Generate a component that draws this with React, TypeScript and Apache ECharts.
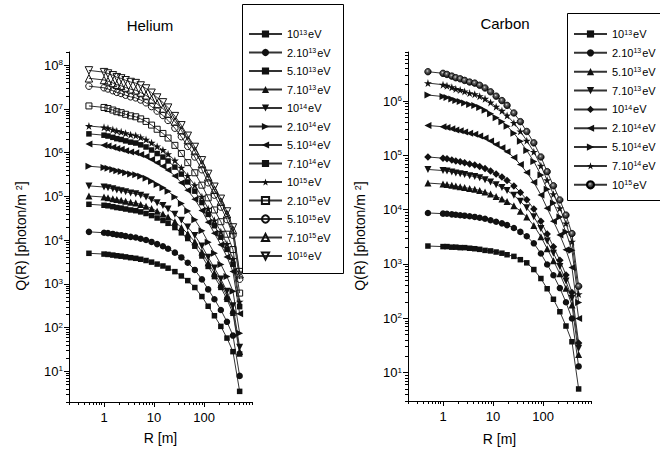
import React, { useEffect, useRef } from "react";
import * as echarts from "echarts";

// ---------- data ----------
const R = [0.5, 1, 1.2, 1.5, 1.8, 2.2, 2.7, 3.4, 4.3, 5.4, 6.9, 8.9, 11.5, 15, 19, 26, 35, 47, 65, 90, 120, 160, 215, 285, 375, 510];

// Helium
const he_1e13 = [5010, 4810, 4720, 4560, 4410, 4300, 4150, 3980, 3850, 3660, 3430, 3150, 2840, 2570, 2290, 1910, 1520, 1190, 828, 515, 309, 187, 107, 57.8, 28.3, 3.5];
const he_2e13 = [15500, 14800, 14500, 13900, 13300, 13000, 12400, 11900, 11500, 10800, 10100, 9120, 8130, 7240, 6350, 5190, 4030, 3050, 2090, 1270, 750, 447, 254, 136, 66, 7.9];
const he_5e13 = [66100, 62800, 61100, 58300, 55700, 54000, 51500, 49000, 47200, 44300, 40700, 36500, 32100, 28200, 24300, 19400, 14700, 10900, 7280, 4350, 2510, 1470, 832, 445, 213, 25];
const he_7e13 = [102000, 96800, 93800, 89000, 84500, 81600, 77400, 73300, 70500, 65600, 59900, 53000, 45900, 39800, 33800, 26400, 19500, 14000, 9200, 5380, 3050, 1760, 989, 526, 249, 28.6];
const he_1e14 = [174000, 164000, 158000, 149000, 141000, 135000, 128000, 120000, 115000, 107000, 96600, 84300, 72100, 61700, 51600, 39300, 28400, 19900, 12800, 7310, 4070, 2310, 1290, 682, 319, 35.8];
const he_2e14 = [490000, 459000, 441000, 414000, 388000, 372000, 349000, 327000, 313000, 288000, 259000, 223000, 188000, 158000, 131000, 97000, 68700, 46700, 29400, 16500, 9020, 5040, 2790, 1470, 679, 74.5];
const he_5e14 = [1.58e6, 1.48e6, 1.42e6, 1.33e6, 1.24e6, 1.19e6, 1.11e6, 1.04e6, 995000, 910000, 815000, 698000, 585000, 490000, 401000, 294000, 206000, 138000, 85900, 47600, 25800, 14300, 7890, 4150, 1910, 207];
const he_7e14 = [2.69e6, 2.51e6, 2.4e6, 2.24e6, 2.09e6, 2.0e6, 1.86e6, 1.74e6, 1.66e6, 1.51e6, 1.35e6, 1.15e6, 955000, 794000, 646000, 468000, 324000, 214000, 132000, 72400, 38900, 21400, 11700, 6170, 2820, 302];
const he_1e15 = [4.07e6, 3.79e6, 3.61e6, 3.37e6, 3.13e6, 2.99e6, 2.77e6, 2.58e6, 2.47e6, 2.24e6, 1.99e6, 1.68e6, 1.39e6, 1.15e6, 927000, 662000, 453000, 295000, 180000, 97900, 52100, 28400, 15600, 8150, 3710, 393];
const he_2e15 = [1.17e7, 1.08e7, 1.02e7, 9.42e6, 8.65e6, 8.2e6, 7.53e6, 6.95e6, 6.61e6, 5.92e6, 5.18e6, 4.27e6, 3.43e6, 2.75e6, 2.16e6, 1.47e6, 959000, 592000, 347000, 181000, 92700, 49000, 26400, 13700, 6100, 617];
const he_5e15 = [3.31e7, 3.04e7, 2.86e7, 2.61e7, 2.39e7, 2.25e7, 2.06e7, 1.89e7, 1.79e7, 1.6e7, 1.38e7, 1.13e7, 8.93e6, 7.08e6, 5.46e6, 3.63e6, 2.32e6, 1.39e6, 798000, 407000, 205000, 107000, 57100, 29500, 13000, 1280];
const he_7e15 = [5.01e7, 4.59e7, 4.31e7, 3.93e7, 3.58e7, 3.37e7, 3.08e7, 2.82e7, 2.67e7, 2.37e7, 2.04e7, 1.65e7, 1.3e7, 1.02e7, 7.83e6, 5.15e6, 3.25e6, 1.92e6, 1.09e6, 552000, 275000, 142000, 75900, 39100, 17100, 1670];
const he_1e16 = [7.59e7, 6.92e7, 6.46e7, 5.86e7, 5.31e7, 4.98e7, 4.52e7, 4.12e7, 3.89e7, 3.43e7, 2.93e7, 2.34e7, 1.82e7, 1.41e7, 1.07e7, 6.84e6, 4.22e6, 2.43e6, 1.35e6, 668000, 327000, 166000, 88100, 45200, 19500, 1860];

// Carbon
const c_1e13 = [2140, 2090, 2090, 2040, 2040, 2000, 2000, 1950, 1910, 1860, 1780, 1740, 1660, 1580, 1480, 1380, 1200, 1050, 790, 540, 350, 224, 132, 72, 37, 5];
const c_2e13 = [8700, 8450, 8400, 8200, 8050, 7900, 7750, 7550, 7350, 7100, 6800, 6400, 6000, 5600, 5200, 4600, 3900, 3240, 2400, 1560, 980, 620, 360, 197, 99, 13];
const c_5e13 = [30900, 29600, 29100, 28100, 27200, 26500, 25600, 24500, 23800, 22600, 21100, 19400, 17500, 15800, 14100, 11800, 9400, 7300, 5100, 3180, 1910, 1150, 660, 356, 175, 21.5];
const c_7e13 = [55000, 52500, 51300, 49300, 47300, 46000, 44200, 42200, 40700, 38500, 35700, 32400, 28800, 25700, 22500, 18400, 14300, 10800, 7400, 4500, 2660, 1580, 900, 484, 234, 28];
const c_1e14 = [93300, 88700, 86300, 82400, 78700, 76200, 72800, 69200, 66700, 62500, 57500, 51500, 45300, 39800, 34400, 27400, 20800, 15300, 10300, 6100, 3550, 2080, 1170, 630, 300, 35];
const c_2e14 = [355000, 336000, 325000, 309000, 293000, 283000, 269000, 254000, 244000, 228000, 208000, 184000, 159000, 138000, 117000, 91400, 67800, 48600, 31900, 18700, 10600, 6100, 3430, 1820, 860, 99];
const c_5e14 = [1.29e6, 1.21e6, 1.16e6, 1.09e6, 1.02e6, 978000, 918000, 861000, 824000, 757000, 680000, 586000, 494000, 417000, 344000, 255000, 181000, 123000, 77300, 43400, 23700, 13200, 7330, 3860, 1790, 196];
const c_7e14 = [2.14e6, 2.0e6, 1.91e6, 1.79e6, 1.67e6, 1.6e6, 1.5e6, 1.4e6, 1.34e6, 1.23e6, 1.1e6, 942000, 789000, 661000, 541000, 396000, 277000, 186000, 116000, 64300, 34800, 19300, 10600, 5600, 2580, 279];
const c_1e15 = [3.47e6, 3.24e6, 3.09e6, 2.88e6, 2.69e6, 2.57e6, 2.4e6, 2.24e6, 2.14e6, 1.95e6, 1.74e6, 1.48e6, 1.23e6, 1.02e6, 832000, 603000, 417000, 275000, 170000, 93300, 50100, 27500, 15100, 7940, 3630, 389];

const heLabels = ["10^13eV", "2.10^13eV", "5.10^13eV", "7.10^13eV", "10^14eV", "2.10^14eV", "5.10^14eV", "7.10^14eV", "10^15eV", "2.10^15eV", "5.10^15eV", "7.10^15eV", "10^16eV"];
const cLabels = ["10^13eV", "2.10^13eV", "5.10^13eV", "7.10^13eV", "10^14eV", "2.10^14eV", "5.10^14eV", "7.10^14eV", "10^15eV"];

// axis ticks
const xMajor = [1, 10, 100];
const xMinor = [0.2, 0.3, 0.4, 0.5, 0.6, 0.7, 0.8, 0.9, 2, 3, 4, 5, 6, 7, 8, 9, 20, 30, 40, 50, 60, 70, 80, 90, 200, 300, 400, 500, 600, 700, 800, 900];
const heYMajor = [10, 100, 1e3, 1e4, 1e5, 1e6, 1e7, 1e8];
const cYMajor = [10, 100, 1e3, 1e4, 1e5, 1e6];

// ---------- styling ----------
const FONT = '"Liberation Sans", Arial, Helvetica, sans-serif';
const SQ = "rect";
const CIR = "circle";
const TUP = "path://M5,0 L10,9 L0,9 Z";
const TDN = "path://M0,0 L10,0 L5,9 Z";
const TLF = "path://M9,0 L9,10 L0,5 Z";
const TRT = "path://M0,0 L0,10 L9,5 Z";
const DIA = "diamond";
const STAR = "path://M50,0 L61.2,34.5 L97.6,34.5 L68.2,55.9 L79.4,90.5 L50,69.1 L20.6,90.5 L31.8,55.9 L2.4,34.5 L38.8,34.5 Z";

function minorTicks(lo: number, hi: number) {
  const out: number[] = [];
  for (let e = -1; e <= 9; e++) {
    for (let m = 2; m <= 9; m++) {
      const v = m * Math.pow(10, e);
      if (v >= lo * 0.999 && v <= hi * 1.001) out.push(v);
    }
  }
  return out;
}

type Def = { values: number[]; symbol: string; size: number; open?: boolean; shaded?: boolean };

const heDefs: Def[] = [
  { values: he_1e13, symbol: SQ, size: 5.5 },
  { values: he_2e13, symbol: CIR, size: 6.5 },
  { values: he_5e13, symbol: SQ, size: 5.5 },
  { values: he_7e13, symbol: TUP, size: 7 },
  { values: he_1e14, symbol: TDN, size: 7 },
  { values: he_2e14, symbol: TRT, size: 7 },
  { values: he_5e14, symbol: TLF, size: 7 },
  { values: he_7e14, symbol: SQ, size: 5.5 },
  { values: he_1e15, symbol: STAR, size: 8 },
  { values: he_2e15, symbol: SQ, size: 6, open: true },
  { values: he_5e15, symbol: CIR, size: 6.5, open: true },
  { values: he_7e15, symbol: TUP, size: 7.5, open: true },
  { values: he_1e16, symbol: TDN, size: 7.5, open: true },
];

const cDefs: Def[] = [
  { values: c_1e13, symbol: SQ, size: 5.5 },
  { values: c_2e13, symbol: CIR, size: 6.5 },
  { values: c_5e13, symbol: TUP, size: 7 },
  { values: c_7e13, symbol: TDN, size: 7 },
  { values: c_1e14, symbol: DIA, size: 7.5 },
  { values: c_2e14, symbol: TLF, size: 7 },
  { values: c_5e14, symbol: TRT, size: 7 },
  { values: c_7e14, symbol: STAR, size: 8 },
  { values: c_1e15, symbol: CIR, size: 6.5, shaded: true },
];

function makeSeries(prefix: string, defs: Def[], labels: string[], axisIdx: number) {
  return defs.map((d, k) => ({
    type: "line",
    name: `${prefix}|${labels[k]}`,
    xAxisIndex: axisIdx,
    yAxisIndex: axisIdx,
    data: R.map((r, i) => [r, d.values[i]]),
    symbol: d.symbol,
    symbolSize: d.size,
    showSymbol: true,
    lineStyle: { color: "#333", width: 1 },
    itemStyle: d.open
      ? { color: "rgba(255,255,255,0)", borderColor: "#111", borderWidth: 1 }
      : d.shaded
      ? {
          color: new echarts.graphic.RadialGradient(0.42, 0.38, 0.62, [
            { offset: 0, color: "#d8d8d8" },
            { offset: 0.3, color: "#666" },
            { offset: 1, color: "#0a0a0a" },
          ]),
          borderColor: "#000",
          borderWidth: 0.8,
        }
      : { color: "#111" },
    emphasis: { disabled: true },
    silent: true,
    z: 2,
  }));
}

const legendFormatter = (name: string) => {
  const label = name.split("|")[1];
  const m = label.match(/^(.*10)\^(\d+)eV$/);
  if (!m) return label;
  return `{n|${m[1]}}{s|${m[2]}}{n|eV}`;
};

const legendRich = {
  n: { fontSize: 11, fontFamily: FONT, color: "#000", lineHeight: 11 },
  s: { fontSize: 7, fontFamily: FONT, color: "#000", verticalAlign: "top", padding: [0, 1, 3, 0] },
};

const tickRich = {
  n: { fontSize: 13, fontFamily: FONT, color: "#000" },
  s: { fontSize: 8, fontFamily: FONT, color: "#000", verticalAlign: "top", padding: [0, 0, 2, 0] },
};

function xAxes(gridIndex: number, nameGap: number) {
  return [
    {
      type: "log",
      gridIndex,
      position: "bottom",
      min: 0.2,
      max: 900,
      name: "R [m]",
      nameLocation: "middle",
      nameGap,
      nameTextStyle: { fontSize: 14, fontFamily: FONT, color: "#000" },
      axisLine: { show: true, lineStyle: { color: "#000", width: 1 } },
      axisTick: { show: true, inside: false, length: 5, customValues: xMajor, lineStyle: { color: "#000", width: 1 } },
      axisLabel: {
        customValues: xMajor,
        margin: 9,
        fontSize: 13,
        fontFamily: FONT,
        color: "#000",
        formatter: (v: number) => String(Math.round(v)),
      },
      splitLine: { show: false },
    },
    {
      type: "log",
      gridIndex,
      position: "bottom",
      min: 0.2,
      max: 900,
      axisLine: { show: false },
      axisTick: { show: true, inside: false, length: 3, customValues: xMinor, lineStyle: { color: "#000", width: 1 } },
      axisLabel: { show: false },
      splitLine: { show: false },
    },
  ];
}

function yAxes(gridIndex: number, min: number, max: number, major: number[]) {
  return [
    {
      type: "log",
      gridIndex,
      position: "left",
      min,
      max,
      axisLine: { show: true, lineStyle: { color: "#000", width: 1 } },
      axisTick: { show: true, inside: false, length: 5, customValues: major, lineStyle: { color: "#000", width: 1 } },
      axisLabel: {
        customValues: major,
        margin: 6,
        formatter: (v: number) => `{n|10}{s|${Math.round(Math.log10(v))}}`,
        rich: tickRich,
      },
      splitLine: { show: false },
    },
    {
      type: "log",
      gridIndex,
      position: "left",
      min,
      max,
      axisLine: { show: false },
      axisTick: { show: true, inside: false, length: 3, customValues: minorTicks(min, max), lineStyle: { color: "#000", width: 1 } },
      axisLabel: { show: false },
      splitLine: { show: false },
    },
  ];
}

function yName(x: number, y: number) {
  return {
    type: "text",
    z: 3,
    x,
    y,
    rotation: Math.PI / 2,
    silent: true,
    style: {
      text: "{n|Q(R) [photon/m }{s|2}{n|]}",
      align: "center",
      verticalAlign: "middle",
      rich: {
        n: { fontSize: 14, fontFamily: FONT, fill: "#000", color: "#000" },
        s: { fontSize: 9, fontFamily: FONT, fill: "#000", color: "#000", verticalAlign: "top", padding: [0, 0, 3, 0] },
      },
    },
  };
}

function title(text: string, x: number, y: number) {
  return {
    type: "text",
    z: 3,
    x,
    y,
    silent: true,
    style: {
      text,
      fontSize: 15,
      fontWeight: "normal",
      fontFamily: FONT,
      fill: "#000",
      align: "center",
      verticalAlign: "middle",
    },
  };
}

function buildOption() {
  const heSeries = makeSeries("He", heDefs, heLabels, 0);
  const cSeries = makeSeries("C", cDefs, cLabels, 2);
  const legendBase = {
    orient: "vertical",
    top: 28.5,
    padding: 0,
    itemWidth: 33,
    itemHeight: 9,
    selectedMode: false,
    formatter: legendFormatter,
    textStyle: { fontSize: 11, fontFamily: FONT, color: "#000", lineHeight: 11, rich: legendRich },
  };
  return {
    animation: false,
    backgroundColor: "#fff",
    textStyle: { fontFamily: FONT },
    grid: [
      { left: 69, top: 52, width: 183, height: 350 },
      { left: 408, top: 52, width: 183, height: 349 },
    ],
    xAxis: [...xAxes(0, 29), ...xAxes(1, 31)],
    yAxis: [...yAxes(0, 2, 2e8, heYMajor), ...yAxes(1, 3, 8e6, cYMajor)],
    legend: [
      { ...legendBase, left: 248, itemGap: 7.5, data: heSeries.map((s) => s.name) },
      { ...legendBase, left: 573, itemGap: 7.85, data: cSeries.map((s) => s.name) },
    ],
    graphic: [
      {
        type: "rect",
        z: 3,
        shape: { x: 242.5, y: 4.5, width: 101, height: 269 },
        style: { fill: "#fff", stroke: "#000", lineWidth: 1 },
        silent: true,
      },
      {
        type: "rect",
        z: 3,
        shape: { x: 567.5, y: 13.5, width: 100, height: 187 },
        style: { fill: "#fff", stroke: "#000", lineWidth: 1 },
        silent: true,
      },
      title("Helium", 150, 25),
      title("Carbon", 505, 23.5),
      yName(21, 236),
      yName(360, 236),
    ],
    series: [...heSeries, ...cSeries],
  };
}

export default function App() {
  const ref = useRef<HTMLDivElement>(null);
  useEffect(() => {
    if (!ref.current) return;
    const chart = echarts.init(ref.current, null, { renderer: "svg" });
    chart.setOption(buildOption() as any);
    return () => chart.dispose();
  }, []);
  return (
    <div
      ref={ref}
      style={{ position: "absolute", left: 0, top: 0, width: 660, height: 457, background: "#fff" }}
    />
  );
}
